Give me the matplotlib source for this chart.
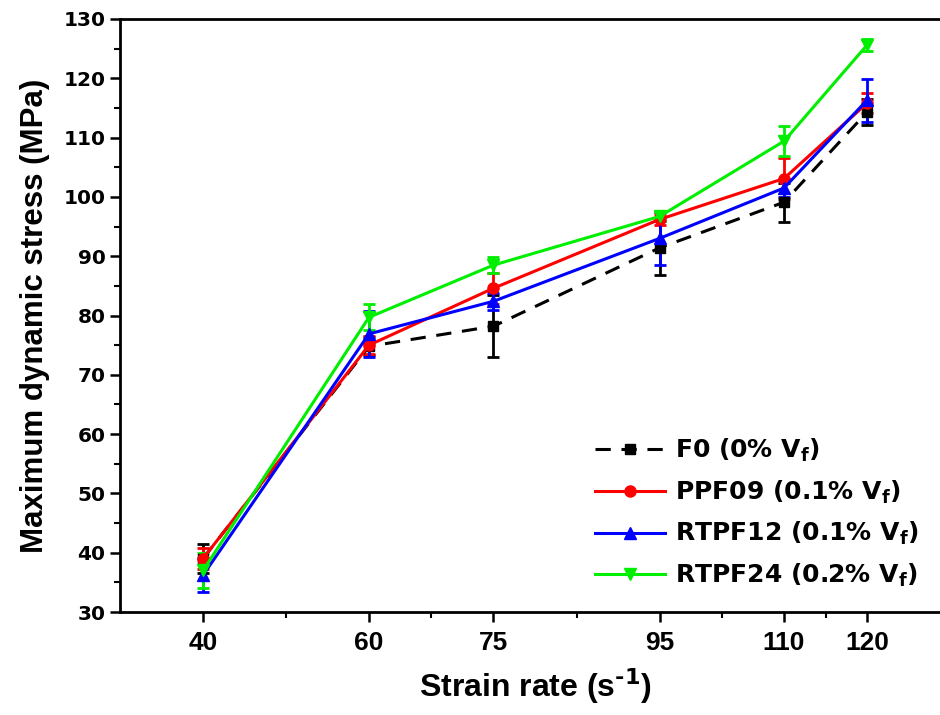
import matplotlib.pyplot as plt
import numpy as np

plt.rcParams['font.family'] = ['Liberation Sans', 'DejaVu Sans']
plt.rcParams['font.weight'] = 'bold'
plt.rcParams['mathtext.fontset'] = 'custom'
plt.rcParams['mathtext.bf'] = 'DejaVu Sans:bold'
plt.rcParams['mathtext.rm'] = 'DejaVu Sans:bold'
plt.rcParams['mathtext.default'] = 'bf'

# strain rates (s^-1)
rates = [40, 60, 75, 95, 110, 120]
minor_ticks = [50, 67.5, 85, 102.5, 115]

# maximum dynamic stress (MPa) and error
f0 = [39.0, 74.8, 78.2, 91.4, 99.1, 114.3]
f0_err = [2.4, 1.5, 5.2, 4.6, 3.3, 2.2]
ppf09 = [39.0, 75.0, 84.6, 96.2, 103.1, 115.8]
ppf09_err = [1.8, 1.5, 2.6, 1.0, 3.5, 1.7]
rtpf12 = [36.2, 76.9, 82.4, 93.0, 101.5, 116.3]
rtpf12_err = [2.9, 3.9, 1.4, 4.5, 1.6, 3.6]
rtpf24 = [37.0, 79.7, 88.5, 96.7, 109.4, 125.6]
rtpf24_err = [3.0, 2.2, 1.4, 0.8, 2.5, 1.0]

labels = [r'F0 (0% V$_f$)', r'PPF09 (0.1% V$_f$)',
          r'RTPF12 (0.1% V$_f$)', r'RTPF24 (0.2% V$_f$)']

fig = plt.figure(figsize=(9.4, 7.15), dpi=100)
ax = fig.add_axes([120 / 940, 103 / 715, 830 / 940, 593 / 715])

styles = [('black', 's', 7), ('#ff0000', 'o', 8),
          ('#0000ff', '^', 8), ('#00ee00', 'v', 8)]
series = [(f0, f0_err), (ppf09, ppf09_err), (rtpf12, rtpf12_err),
          (rtpf24, rtpf24_err)]

handles = []
for i, ((y, e), (c, m, ms)) in enumerate(zip(series, styles)):
    kw = dict(ls='--', dashes=(5, 3.5)) if i == 0 else dict(ls='-')
    cont = ax.errorbar(rates, y, yerr=e, color=c, lw=2.2, marker=m, ms=ms,
                       capsize=4.5, elinewidth=2, capthick=2, **kw)
    handles.append(cont[0])

ax.set_xlim(30, 130)
ax.set_ylim(30, 130)
ax.set_xticks(rates)
ax.set_xticks(minor_ticks, minor=True)
ax.set_yticks(np.arange(30, 131, 10))
ax.set_yticks(np.arange(35, 130, 10), minor=True)

ax.tick_params(axis='both', which='major', direction='out', length=7,
               width=1.8, labelsize=19)
ax.tick_params(axis='both', which='minor', direction='out', length=4,
               width=1.5)
ax.tick_params(axis='x', pad=7)
for lab in ax.get_yticklabels():
    lab.set_family(['DejaVu Sans'])
    lab.set_fontsize(14.5)
for s in ax.spines.values():
    s.set_linewidth(2)

ax.set_xlabel(r'Strain rate (s$^{\text{-}1}$)', fontsize=23,
              fontweight='bold', labelpad=8)
ax.set_ylabel('Maximum dynamic stress (MPa)', fontsize=22.5,
              fontweight='bold', labelpad=10)

ax.legend(handles, labels, loc='center left',
          bbox_to_anchor=(595 / 940, 202 / 715),
          bbox_transform=fig.transFigure, frameon=False, borderpad=0,
          borderaxespad=0, prop={'family': 'DejaVu Sans', 'weight': 'bold',
                                 'size': 18},
          handlelength=2.8, handletextpad=0.4, labelspacing=0.58)

plt.savefig('out.png', dpi=100)
